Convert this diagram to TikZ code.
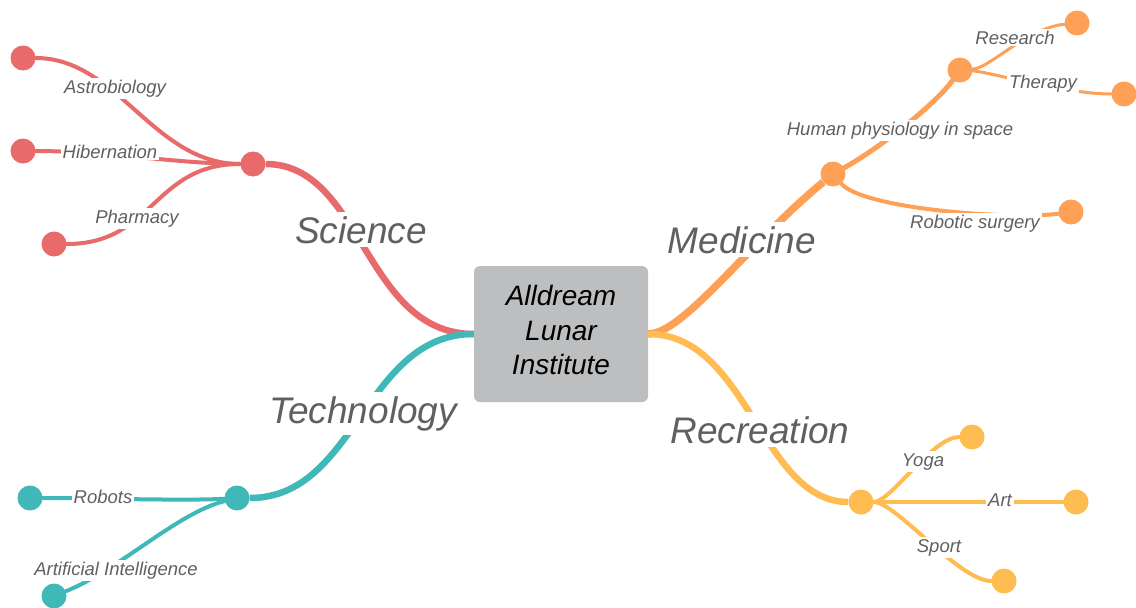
\documentclass[tikz,border=0pt]{standalone}
\usepackage{fontspec}
\setmainfont{Liberation Sans}
\definecolor{scired}{HTML}{E96A6A}
\definecolor{techteal}{HTML}{40B8B8}
\definecolor{medorange}{HTML}{FFA057}
\definecolor{recyellow}{HTML}{FFBC50}
\definecolor{labelgray}{HTML}{606060}
\definecolor{boxgray}{HTML}{BDBEC0}
\tikzset{
  dot/.style={circle, fill=#1, minimum size=25pt, inner sep=0pt},
  branch/.style={draw=#1, line width=6.5pt},
  twig/.style={draw=#1, line width=4pt, line cap=round},
  topic/.style={fill=white, text=labelgray, inner sep=4pt, font=\fontsize{37}{44}\selectfont\itshape},
  leaf/.style={fill=white, text=labelgray, inner sep=2pt, font=\fontsize{18.5}{22}\selectfont\itshape},
}

\begin{document}
\begin{tikzpicture}[x=1pt,y=-1pt]
        \useasboundingbox[fill=white] (0,0) rectangle (1136,608);
        \node[fill=boxgray, rounded corners=6pt, minimum width=174pt, minimum height=136pt, align=center, text depth=8pt, font=\fontsize{28}{34.5}\selectfont\itshape] (institute) at (561,334) {Alldream\\Lunar\\Institute};

        \node[dot=scired] (scihub) at (253,164) {};
        \node[dot=scired] (astro) at (23,58) {};
        \node[dot=scired] (hiber) at (23,151) {};
        \node[dot=scired] (pharm) at (54,244) {};
        \node[dot=techteal] (techhub) at (237,498) {};
        \node[dot=techteal] (robots) at (30,498) {};
        \node[dot=techteal] (ai) at (54,596) {};
        \node[dot=medorange] (medhub) at (833,174) {};
        \node[dot=medorange] (physhub) at (960,70) {};
        \node[dot=medorange] (research) at (1077,23) {};
        \node[dot=medorange] (therapy) at (1124,94) {};
        \node[dot=medorange] (surgery) at (1071,212) {};
        \node[dot=recyellow] (rechub) at (861,502) {};
        \node[dot=recyellow] (yoga) at (972,437) {};
        \node[dot=recyellow] (art) at (1076,502) {};
        \node[dot=recyellow] (sport) at (1004,581) {};

        \draw[branch=scired] (institute.west) .. controls +(-110,0) and +(110,0) .. (scihub);
        \draw[twig=scired] (scihub) .. controls +(-100,0) and +(95,0) .. (astro);
        \draw[twig=scired] (scihub) .. controls +(-70,0) and +(80,0) .. (hiber);
        \draw[twig=scired] (scihub) .. controls +(-100,0) and +(100,0) .. (pharm);

        \draw[branch=techteal] (institute.west) .. controls +(-110,0) and +(120,0) .. (techhub);
        \draw[twig=techteal] (techhub) .. controls +(-50,3) and +(60,0) .. (robots);
        \draw[twig=techteal] (techhub) .. controls +(-60,15) and +(65,-26) .. (ai);

        \draw[branch=medorange, line width=7.5pt] (institute.east) .. controls +(35,0) and +(-85,70) .. (medhub);
        \draw[twig=medorange, line width=5pt] (medhub) .. controls +(45,-25) and +(-25,35) .. (physhub);
        \draw[twig=medorange, line width=3pt] (physhub) .. controls +(30,-2) and +(-50,5) .. (research);
        \draw[twig=medorange, line width=3pt] (physhub) .. controls +(30,2) and +(-60,0) .. (therapy);
        \draw[twig=medorange] (medhub) .. controls +(30,35) and +(-60,8) .. (surgery);

        \draw[branch=recyellow] (institute.east) .. controls +(100,0) and +(-100,0) .. (rechub);
        \draw[twig=recyellow] (rechub) .. controls +(30,0) and +(-40,0) .. (yoga);
        \draw[twig=recyellow] (rechub) -- (art);
        \draw[twig=recyellow] (rechub) .. controls +(35,0) and +(-45,0) .. (sport);

        \node[topic, anchor=base] (science) at (361,243) {Science};
        \node[topic, anchor=base] (technology) at (363,423) {Technology};
        \node[topic, anchor=base] (medicine) at (742,253) {Medicine};
        \node[topic, anchor=base] (recreation) at (760,443) {Recreation};

        \node[leaf, anchor=base] (astrolbl) at (115,93) {Astrobiology};
        \node[leaf, anchor=base] (hiberlbl) at (110,158) {Hibernation};
        \node[leaf, anchor=base] (pharmlbl) at (137,223) {Pharmacy};
        \node[leaf, anchor=base] (robotslbl) at (103,503) {Robots};
        \node[leaf, anchor=base] (ailbl) at (116,575) {Artificial Intelligence};
        \node[leaf, anchor=base] (physlbl) at (900,135) {Human physiology in space};
        \node[leaf, anchor=base] (researchlbl) at (1015,44) {Research};
        \node[leaf, anchor=base] (therapylbl) at (1043,88) {Therapy};
        \node[leaf, anchor=base] (surgerylbl) at (975,228) {Robotic surgery};
        \node[leaf, anchor=base] (yogalbl) at (923,466) {Yoga};
        \node[leaf, anchor=base] (artlbl) at (1000,506) {Art};
        \node[leaf, anchor=base] (sportlbl) at (939,552) {Sport};
\end{tikzpicture}
\end{document}
